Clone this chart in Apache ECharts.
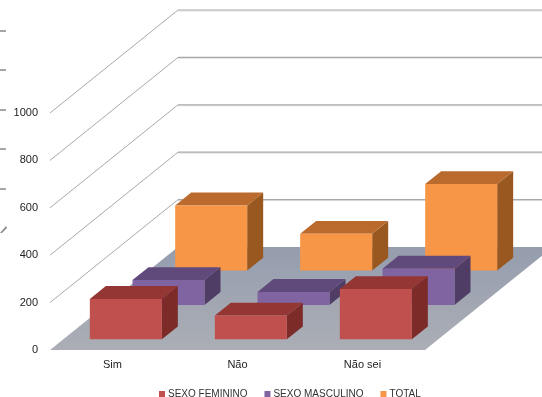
<!DOCTYPE html>
<html>
<head>
<meta charset="utf-8">
<script src="https://cdn.jsdelivr.net/npm/echarts@6/dist/echarts.min.js"></script>
<style>
  html, body { margin: 0; padding: 0; background: #fff; }
  #chart { width: 542px; height: 397px; }
</style>
</head>
<body>
<div id="chart"></div>
<script>
// Survey answers split by sex, plus the total
const categories = ['Sim', 'Não', 'Não sei'];
const feminino = [170, 100, 212];
const masculino = [105, 55, 153];
const total = [275, 155, 365];
const yTicks = [0, 200, 400, 600, 800, 1000];

const seriesNames = ['SEXO FEMININO', 'SEXO MASCULINO', 'TOTAL'];
const seriesData = [feminino, masculino, total];

// Face colours: front, top, side
const faceColors = [
  ['#C0504D', '#943634', '#7C2B29'],
  ['#8064A2', '#604A7B', '#4F3D66'],
  ['#F79646', '#B96A2C', '#98581F']
];

// Oblique depth vector of the 3D box (front plane -> back wall)
const DX = 128, DY = -103;
const BAR_HALF = 0.288;      // half bar width as a share of the category band
const ROW_PAD = 0.3125;      // gap before a bar inside its depth row

const chart = echarts.init(document.getElementById('chart'), null, { renderer: 'canvas' });

function floorItem(params, api) {
  const p = api.coord([0, 0]);
  const bw = api.size([1, 0])[0];
  const x0 = p[0] - bw / 2, x1 = x0 + bw * categories.length, y = p[1];
  return {
    type: 'polygon',
    shape: { points: [[x0, y], [x1, y], [x1 + DX, y + DY], [x0 + DX, y + DY]] },
    style: {
      fill: new echarts.graphic.LinearGradient(0, 0, 0, 1, [
        { offset: 0, color: '#959DAE' },
        { offset: 1, color: '#ABAEB5' }
      ])
    }
  };
}

function gridItem(params, api) {
  const v = api.value(1);
  const p = api.coord([0, v]);
  const bw = api.size([1, 0])[0];
  const x0 = p[0] - bw / 2, x1 = x0 + bw * categories.length, y = p[1];
  return {
    type: 'group',
    children: [
      {
        type: 'line',
        shape: { x1: x0, y1: y, x2: x0 + DX, y2: y + DY },
        style: { stroke: '#A8A8A8', lineWidth: 1 }
      },
      {
        type: 'line',
        shape: { x1: x0 + DX, y1: y + DY + 1, x2: x1 + DX + 20, y2: y + DY + 1 },
        style: { stroke: '#E2E2E2', lineWidth: 1 }
      },
      {
        type: 'line',
        shape: { x1: x0 + DX, y1: y + DY, x2: x1 + DX + 20, y2: y + DY },
        style: { stroke: '#A9A9A9', lineWidth: 1.2 }
      }
    ]
  };
}

function makeBarRenderer(row) {
  const cols = faceColors[row];
  const d0 = (row + ROW_PAD) / 3;
  const d1 = (row + 1 - ROW_PAD) / 3;
  return function (params, api) {
    const i = api.value(0);
    const v = api.value(1);
    const base = api.coord([i, 0]);
    const top = api.coord([i, v]);
    const bw = api.size([1, 0])[0];
    const xl = base[0] - bw * BAR_HALF, xr = base[0] + bw * BAR_HALF;
    const yb = base[1], yt = top[1];
    const ax = d0 * DX, ay = d0 * DY, bx = d1 * DX, by = d1 * DY;
    return {
      type: 'group',
      children: [
        {
          type: 'polygon',
          shape: { points: [[xr + ax, yt + ay], [xr + bx, yt + by], [xr + bx, yb + by], [xr + ax, yb + ay]] },
          style: { fill: cols[2] }
        },
        {
          type: 'polygon',
          shape: { points: [[xl + ax, yt + ay], [xr + ax, yt + ay], [xr + bx, yt + by], [xl + bx, yt + by]] },
          style: { fill: cols[1] }
        },
        {
          type: 'rect',
          shape: { x: xl + ax, y: yt + ay, width: xr - xl, height: yb - yt },
          style: { fill: cols[0] }
        }
      ]
    };
  };
}

const barSeries = seriesData.map((vals, row) => ({
  name: seriesNames[row],
  type: 'custom',
  clip: false,
  z: 10 - row,
  itemStyle: { color: faceColors[row][0] },
  renderItem: makeBarRenderer(row),
  encode: { x: 0, y: 1 },
  data: vals.map((v, i) => [i, v])
}));

// Small tick marks along the left border
const leftTicks = [31, 70, 110, 149, 189].map(y => ({
  type: 'line',
  shape: { x1: 0, y1: y, x2: 6, y2: y },
  style: { stroke: '#A6A6A6', lineWidth: 2 }
}));
leftTicks.push({
  type: 'polygon',
  shape: { points: [[0, 233], [6, 226], [7, 228], [2, 233]] },
  style: { fill: '#8C8C8C' }
});

chart.setOption({
  animation: false,
  textStyle: { fontFamily: 'Liberation Sans, Arial, sans-serif' },
  grid: { left: 50, right: 117, top: 113, bottom: 47 },
  xAxis: {
    type: 'category',
    data: categories,
    axisLine: { show: false },
    axisTick: { show: false },
    axisLabel: { fontSize: 11, color: '#222', margin: 9 }
  },
  yAxis: {
    type: 'value',
    min: 0,
    max: 1000,
    interval: 200,
    axisLine: { show: false },
    axisTick: { show: false },
    splitLine: { show: false },
    axisLabel: { fontSize: 11, color: '#222', margin: 12, formatter: v => String(v) }
  },
  legend: {
    data: seriesNames,
    left: 154,
    top: 384,
    icon: 'rect',
    itemWidth: 6,
    itemHeight: 6,
    itemGap: 17,
    textStyle: { fontSize: 10, color: '#333', padding: [0, 0, 0, -2] }
  },
  graphic: leftTicks,
  series: [
    {
      type: 'custom',
      clip: false,
      z: 1,
      silent: true,
      renderItem: gridItem,
      encode: { x: 0, y: 1 },
      data: yTicks.slice(1).map(v => [0, v])
    },
    {
      type: 'custom',
      clip: false,
      z: 2,
      silent: true,
      renderItem: floorItem,
      encode: { x: 0, y: 1 },
      data: [[0, 0]]
    }
  ].concat(barSeries)
});
</script>
</body>
</html>
